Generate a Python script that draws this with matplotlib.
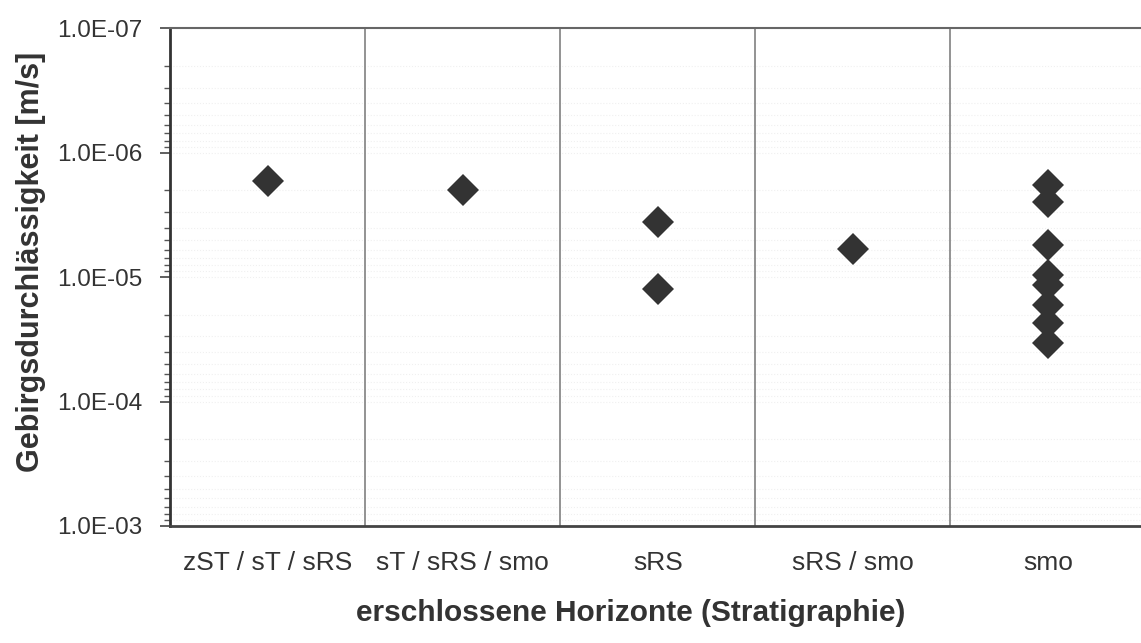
import numpy as np
import matplotlib
matplotlib.use("Agg")
import matplotlib.pyplot as plt
from matplotlib.ticker import LogLocator, FuncFormatter, NullFormatter

plt.rcParams['font.family'] = ['Liberation Sans', 'DejaVu Sans']

# Kategorien (Stratigraphie) und gemessene Gebirgsdurchlaessigkeiten [m/s]
categories = ["zST / sT / sRS", "sT / sRS / smo", "sRS", "sRS / smo", "smo"]
k_zST_sT_sRS = [1.7e-6]
k_sT_sRS_smo = [2.0e-6]
k_sRS = [3.6e-6, 1.24e-5]
k_sRS_smo = [5.9e-6]
k_smo = [1.82e-6, 2.48e-6, 5.5e-6, 9.6e-6, 1.16e-5, 1.68e-5, 2.34e-5, 3.4e-5]
values = [k_zST_sT_sRS, k_sT_sRS_smo, k_sRS, k_sRS_smo, k_smo]

fig = plt.figure(figsize=(11.41, 6.43), dpi=100)
ax = fig.add_axes([0.149, 0.182, 0.855, 0.774])

# Punkte
for i, vals in enumerate(values):
    ax.plot([i] * len(vals), vals, linestyle='none', marker='D',
            markersize=16.5, color='#333333', markeredgewidth=0)

ax.set_yscale('log')
ax.set_ylim(1e-3, 1e-7)   # invertierte Achse
ax.set_xlim(-0.5, len(categories) - 0.5)

ax.yaxis.set_major_locator(LogLocator(base=10))
ax.yaxis.set_minor_locator(LogLocator(base=10, subs=np.arange(2, 10)))
ax.yaxis.set_major_formatter(FuncFormatter(lambda v, p: f"{v:.1E}"))
ax.yaxis.set_minor_formatter(NullFormatter())

# schwache Gitterlinien
ax.grid(True, which='both', axis='y', color='#f0f0f0', linewidth=0.8, linestyle=':')

# Trennlinien zwischen Kategorien
for b in np.arange(0.5, len(categories) - 0.5, 1):
    ax.axvline(b, color='#8a8a8a', linewidth=1.3)

ax.set_xticks(range(len(categories)))
ax.set_xticklabels(categories)
ax.tick_params(axis='x', length=0, pad=18, labelsize=19, labelcolor='#333333')
ax.tick_params(axis='y', which='major', length=7, width=1.2, pad=13,
               labelsize=17.5, labelcolor='#333333', color='#444444')
ax.tick_params(axis='y', which='minor', length=4, width=1.0, color='#555555')

ax.spines['left'].set_linewidth(2.0)
ax.spines['left'].set_color('#333333')
ax.spines['bottom'].set_linewidth(2.0)
ax.spines['bottom'].set_color('#444444')
ax.spines['top'].set_linewidth(1.5)
ax.spines['top'].set_color('#666666')
ax.spines['right'].set_visible(False)

fig.text(0.027, 1 - 262 / 643, "Gebirgsdurchlässigkeit [m/s]", rotation=90,
         ha='center', va='center', fontsize=22, fontweight='bold', color='#333333')
fig.text(631 / 1141, 1 - 613 / 643, "erschlossene Horizonte (Stratigraphie)",
         ha='center', va='center', fontsize=21.5, fontweight='bold', color='#333333')

fig.savefig("out.png", dpi=100)
